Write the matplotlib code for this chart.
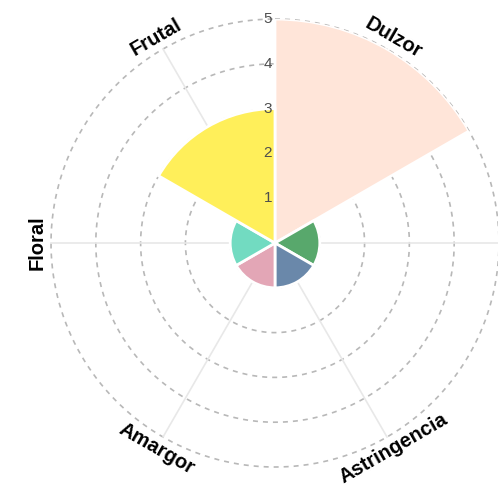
import numpy as np
import matplotlib
matplotlib.use("Agg")
from matplotlib import pyplot as plt

categories = ["Dulzor", "Acidez", "Astringencia", "Amargor", "Floral", "Frutal"]
values = [5, 1, 1, 1, 1, 3]
colors = ["#FFE5D9", "#58A86C", "#6A88AA", "#E3A6B6", "#72DBC1", "#FFEF5A"]
ring_ticks = [1, 2, 3, 4, 5]

plt.rcParams["font.family"] = ["Liberation Sans", "DejaVu Sans"]

fig = plt.figure(figsize=(4.98, 4.88), dpi=100)
ax = fig.add_axes([0.1024, 0.043, 0.8996, 0.918], projection="polar")
ax.set_theta_zero_location("N")
ax.set_theta_direction(-1)
ax.set_ylim(0, 5)
ax.grid(False)
ax.spines["polar"].set_visible(False)
ax.set_xticks([])
ax.set_yticks([])

n = len(categories)
width = 2 * np.pi / n
centers = np.arange(n) * width + width / 2

# grid: dashed rings and light spokes
full = np.linspace(0, 2 * np.pi, 400)
for r in ring_ticks:
    ax.plot(full, [r] * len(full), color="#b8b8b8", lw=1.2, ls=(0, (3, 3)), zorder=1, clip_on=False)
for t in centers:
    ax.plot([t, t], [0, 5], color="#e8e8e8", lw=1.2, zorder=1, clip_on=False)

ax.bar(centers, values, width=width, color=colors, edgecolor="white", linewidth=2, zorder=2)

for r in ring_ticks:
    ax.annotate(str(r), (0, r), xytext=(-2, 0), textcoords="offset points",
                ha="right", va="center", fontsize=11, color="#4d4d4d", zorder=5)

for t, name in zip(centers, categories):
    deg = np.degrees(t)
    if abs(deg - 90) < 1:
        continue  # this label falls outside the canvas in the original
    rot = (-deg) % 360
    if 90 < rot <= 270:
        rot -= 180
    elif rot > 270:
        rot -= 360
    ax.text(t, 5.3, name, rotation=rot, rotation_mode="anchor", ha="center", va="center",
            fontsize=14.5, fontweight="bold", color="black", clip_on=False)

plt.savefig("out.png", dpi=100)
